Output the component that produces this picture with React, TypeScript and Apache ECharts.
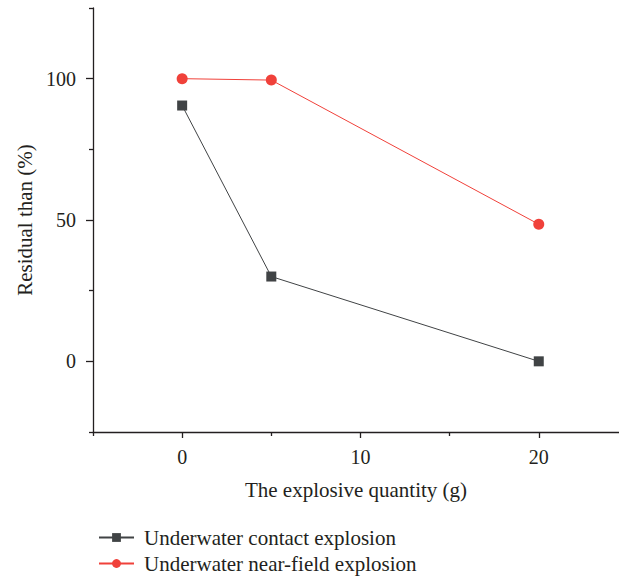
import React, { useEffect, useRef } from "react";
import * as echarts from "echarts";

const quantities = [0, 5, 20];
const contactResidual = [90.5, 30, 0];
const nearFieldResidual = [100, 99.5, 48.5];

const seriesNames = ["Underwater contact explosion", "Underwater near-field explosion"];
const xMajorTicks = [0, 10, 20];
const xMinorTicks = [-5, 5, 15];
const yMajorTicks = [0, 50, 100];
const yMinorTicks = [-25, 25, 75, 125];

const FONT = "Liberation Serif";
const INK = "#231f20";

export default function App() {
  const ref = useRef<HTMLDivElement>(null);

  useEffect(() => {
    document.body.style.margin = "0";
    const chart = echarts.init(ref.current!, null, { renderer: "svg" });
    const toPairs = (ys: number[]) => quantities.map((q, i) => [q, ys[i]]);

    // one legend per row keeps both entries stacked under the plot
    const legendRow = (name: string, top: number) => ({
      left: 93,
      top,
      itemWidth: 35,
      itemHeight: 11,
      textStyle: { fontFamily: FONT, fontSize: 21, color: INK, padding: [0, 0, 0, 5] },
      data: [name],
    });

    chart.setOption({
      animation: false,
      backgroundColor: "#ffffff",
      textStyle: { fontFamily: FONT, color: INK },
      grid: { left: 93, top: 8, right: 0, bottom: 148 },
      legend: [legendRow(seriesNames[0], 522), legendRow(seriesNames[1], 548)],
      xAxis: [
        {
          type: "value",
          min: -5,
          max: 24.5,
          interval: 5,
          name: "The explosive quantity (g)",
          nameLocation: "middle",
          nameGap: 47,
          nameTextStyle: { fontFamily: FONT, fontSize: 21, color: INK },
          axisLine: { onZero: false, lineStyle: { color: INK, width: 1.3 } },
          axisTick: { customValues: xMajorTicks, length: 6, lineStyle: { color: INK, width: 1.3 } },
          axisLabel: { customValues: xMajorTicks, margin: 15, fontFamily: FONT, fontSize: 20, color: INK },
          splitLine: { show: false },
        },
        {
          type: "value",
          position: "bottom",
          min: -5,
          max: 24.5,
          interval: 5,
          axisLine: { show: false, onZero: false },
          axisTick: { customValues: xMinorTicks, length: 4, lineStyle: { color: INK, width: 1.3 } },
          axisLabel: { show: false },
          splitLine: { show: false },
        },
      ],
      yAxis: [
        {
          type: "value",
          min: -25,
          max: 125,
          interval: 25,
          name: "Residual than (%)",
          nameLocation: "middle",
          nameGap: 57,
          nameTextStyle: { fontFamily: FONT, fontSize: 21, color: INK },
          axisLine: { show: true, onZero: false, lineStyle: { color: INK, width: 1.3 } },
          axisTick: { show: true, customValues: yMajorTicks, length: 7, lineStyle: { color: INK, width: 1.3 } },
          axisLabel: { customValues: yMajorTicks, margin: 17, fontFamily: FONT, fontSize: 20, color: INK },
          splitLine: { show: false },
        },
        {
          type: "value",
          position: "left",
          min: -25,
          max: 125,
          interval: 25,
          axisLine: { show: false, onZero: false },
          axisTick: { show: true, customValues: yMinorTicks, length: 4, lineStyle: { color: INK, width: 1.3 } },
          axisLabel: { show: false },
          splitLine: { show: false },
        },
      ],
      series: [
        {
          name: seriesNames[0],
          type: "line",
          data: toPairs(contactResidual),
          symbol: "rect",
          symbolSize: 10,
          itemStyle: { color: "#404345" },
          lineStyle: { color: "#404345", width: 1 },
        },
        {
          name: seriesNames[1],
          type: "line",
          data: toPairs(nearFieldResidual),
          symbol: "circle",
          symbolSize: 11,
          itemStyle: { color: "#f0413a" },
          lineStyle: { color: "#f0413a", width: 1 },
        },
      ],
    });

    return () => chart.dispose();
  }, []);

  return <div ref={ref} style={{ width: 619, height: 580 }} />;
}
